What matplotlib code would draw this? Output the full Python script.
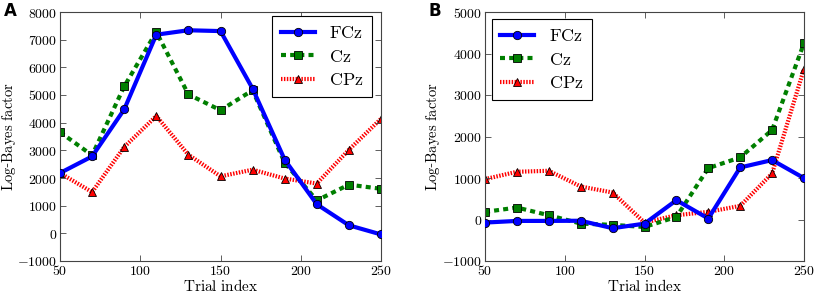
import matplotlib
matplotlib.use("Agg")
import matplotlib.pyplot as plt
from matplotlib.ticker import FuncFormatter

plt.rcParams['mathtext.fontset'] = 'cm'
plt.rcParams['font.family'] = 'serif'
plt.rcParams['font.serif'] = ['DejaVu Serif']

trials = [50, 70, 90, 110, 130, 150, 170, 190, 210, 230, 250]

a_fcz = [2180, 2780, 4480, 7180, 7340, 7310, 5230, 2660, 1050, 290, -40]
a_cz = [3660, 2820, 5310, 7280, 5020, 4450, 5170, 2550, 1190, 1760, 1610]
a_cpz = [2180, 1490, 3120, 4240, 2840, 2060, 2300, 1980, 1800, 3020, 4140]

b_fcz = [-74, -34, -34, -30, -210, -100, 465, 23, 1254, 1432, 997]
b_cz = [184, 288, 103, -98, -130, -180, 63, 1238, 1496, 2156, 4250]
b_cpz = [973, 1150, 1174, 795, 650, -74, 103, 184, 328, 1110, 3630]

labels = ['FCz', 'Cz', 'CPz']

W, H = 818, 298
fig = plt.figure(figsize=(W / 100, H / 100), dpi=100)
A_box = (60, 12, 381, 261)
B_box = (485, 12, 804, 261)

def add_ax(box):
    l, t, r, b = box
    return fig.add_axes([l / W, 1 - b / H, (r - l) / W, (b - t) / H])

axA = add_ax(A_box)
axB = add_ax(B_box)

fmt = FuncFormatter(lambda v, p: r'$%d$' % v if v >= 0 else r'$-%d$' % (-v))

def draw(ax, box, fcz, cz, cpz, ylim, yticks, loc, anchor_px, ylabel_x):
    l, t, r, b = box
    ax.plot(trials, fcz, color='#0000ff', lw=3, ls='-', marker='o', ms=6,
            mfc='#0000ff', mec='black', mew=0.6, label=r'$\mathrm{%s}$' % labels[0], zorder=3)
    ax.plot(trials, cz, color='#007f00', lw=3, ls=(0, (1.2, 1.0)), marker='s', ms=6,
            mfc='#007f00', mec='black', mew=0.6, label=r'$\mathrm{%s}$' % labels[1], zorder=2)
    ax.plot(trials, cpz, color='#ff0000', lw=3, ls=(0, (0.35, 0.35)), marker='^', ms=6,
            mfc='#ff0000', mec='black', mew=0.6, label=r'$\mathrm{%s}$' % labels[2], zorder=1)
    ax.set_xlim(50, 250)
    ax.set_ylim(*ylim)
    ax.set_xticks([50, 100, 150, 200, 250])
    ax.set_yticks(yticks)
    ax.xaxis.set_major_formatter(fmt)
    ax.yaxis.set_major_formatter(fmt)
    ax.tick_params(direction='in', top=True, right=True, labelsize=10, length=4,
                   width=0.6, pad=2, color='#444444')
    ax.set_xlabel(r'$\mathrm{Trial\ index}$', fontsize=11, labelpad=0)
    ax.set_ylabel(r'$\mathrm{Log}$-$\mathrm{Bayes\ factor}$', fontsize=10.5)
    ax.yaxis.set_label_coords((ylabel_x - l) / (r - l), 0.5)
    for s in ax.spines.values():
        s.set_linewidth(0.8)
        s.set_color('#444444')
    ax_x = (anchor_px[0] - l) / (r - l)
    ax_y = (b - anchor_px[1]) / (b - t)
    leg = ax.legend(loc=loc, bbox_to_anchor=(ax_x, ax_y), borderaxespad=0,
                    fontsize=13, handlelength=1.9, fancybox=False,
                    framealpha=1, edgecolor='black', borderpad=0.45, labelspacing=0.3,
                    handletextpad=0.8)
    leg.get_frame().set_linewidth(0.8)

draw(axA, A_box, a_fcz, a_cz, a_cpz, (-1000, 8000), list(range(-1000, 8001, 1000)),
     'upper right', (372, 16), 18)
draw(axB, B_box, b_fcz, b_cz, b_cpz, (-1000, 5000), list(range(-1000, 5001, 1000)),
     'upper left', (492, 19), 442)

fig.text(10 / W, 1 - 11 / H, 'A', fontsize=12, fontweight='bold', family='DejaVu Sans', va='center', ha='center')
fig.text(435 / W, 1 - 11 / H, 'B', fontsize=12, fontweight='bold', family='DejaVu Sans', va='center', ha='center')

fig.savefig('out.png', dpi=100, facecolor='white')
